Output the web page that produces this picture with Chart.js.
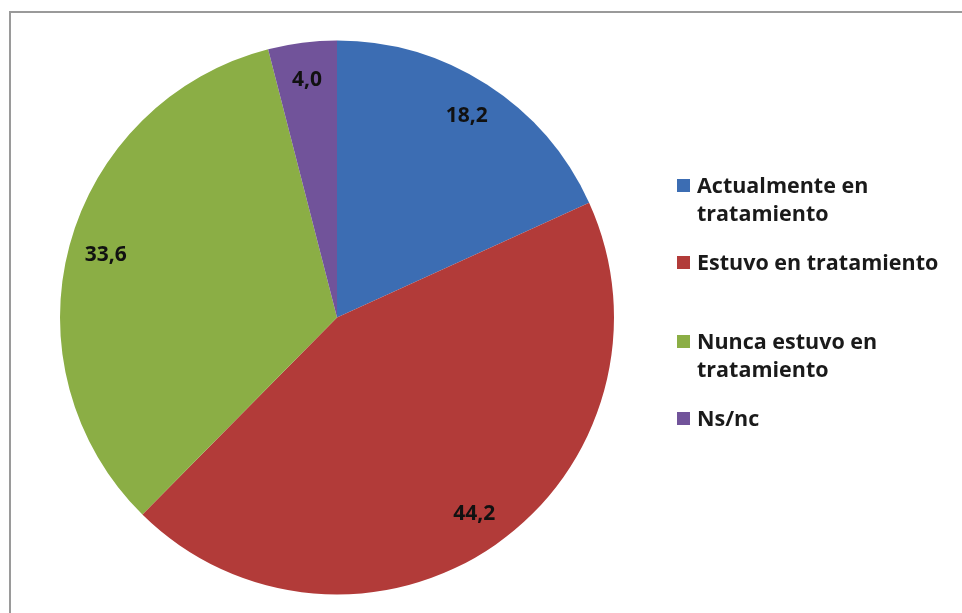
<!DOCTYPE html>
<html>
<head>
<meta charset="utf-8">
<script src="https://cdn.jsdelivr.net/npm/chart.js@4/dist/chart.umd.min.js"></script>
<style>
html,body{margin:0;padding:0;background:#fff;overflow:hidden;}
#wrap{position:relative;width:962px;height:613px;}
#frame{position:absolute;left:9px;top:11px;width:1000px;height:700px;border:2px solid #9a9a9a;box-sizing:border-box;}
canvas{position:absolute;left:0;top:0;}
.item{position:absolute;left:677px;font-family:"Open Sans",sans-serif;font-weight:700;font-size:21.5px;line-height:28px;color:#1a1a1a;}
.item .box{position:absolute;left:0;top:8px;width:13px;height:13px;}
.item .txt{margin-left:20px;white-space:nowrap;}
</style>
</head>
<body>
<div id="wrap">
<div id="frame"></div>
<canvas id="chart" width="962" height="613"></canvas>
<div id="legend"></div>
</div>
<script>
const labels = ["Actualmente en tratamiento","Estuvo en tratamiento","Nunca estuvo en tratamiento","Ns/nc"];
const legendLines = [["Actualmente en","tratamiento"],["Estuvo en tratamiento"],["Nunca estuvo en","tratamiento"],["Ns/nc"]];
const values = [18.2,44.2,33.6,4.0];
const colors = ["#3c6db3","#b23b39","#8bae45","#71539a"];
const legendTop = [171,248,327,404];

/* value labels inside slices */
const sliceLabels = {
id:"sliceLabels",
afterDatasetsDraw(chart){
const ctx = chart.ctx;
const meta = chart.getDatasetMeta(0);
ctx.save();
ctx.font = "bold 21px 'Open Sans', sans-serif";
ctx.fillStyle = "#111";
ctx.textAlign = "center";
ctx.textBaseline = "middle";
meta.data.forEach((arc,i)=>{
let mid = (arc.startAngle + arc.endAngle)/2;
let r = arc.outerRadius*0.865;
let x = arc.x + Math.cos(mid)*r;
let y = arc.y + Math.sin(mid)*r;
ctx.fillText(values[i].toFixed(1).replace(".",","),x,y);
});
ctx.restore();
}
};

new Chart(document.getElementById("chart"),{
type:"pie",
data:{
labels:labels,
datasets:[{
data:values,
backgroundColor:colors,
borderWidth:0
}]
},
options:{
responsive:false,
animation:false,
layout:{padding:{left:60,right:348,top:40,bottom:18}},
plugins:{
legend:{display:false},
tooltip:{enabled:false}
}
},
plugins:[sliceLabels]
});

/* LEGEND */
let legend = document.getElementById("legend");
legendLines.forEach((lines,i)=>{
let div = document.createElement("div");
div.className = "item";
div.style.top = legendTop[i] + "px";
div.innerHTML = `<span class="box" style="background:${colors[i]}"></span><div class="txt">${lines.join("<br>")}</div>`;
legend.appendChild(div);
});
</script>
</body>
</html>
